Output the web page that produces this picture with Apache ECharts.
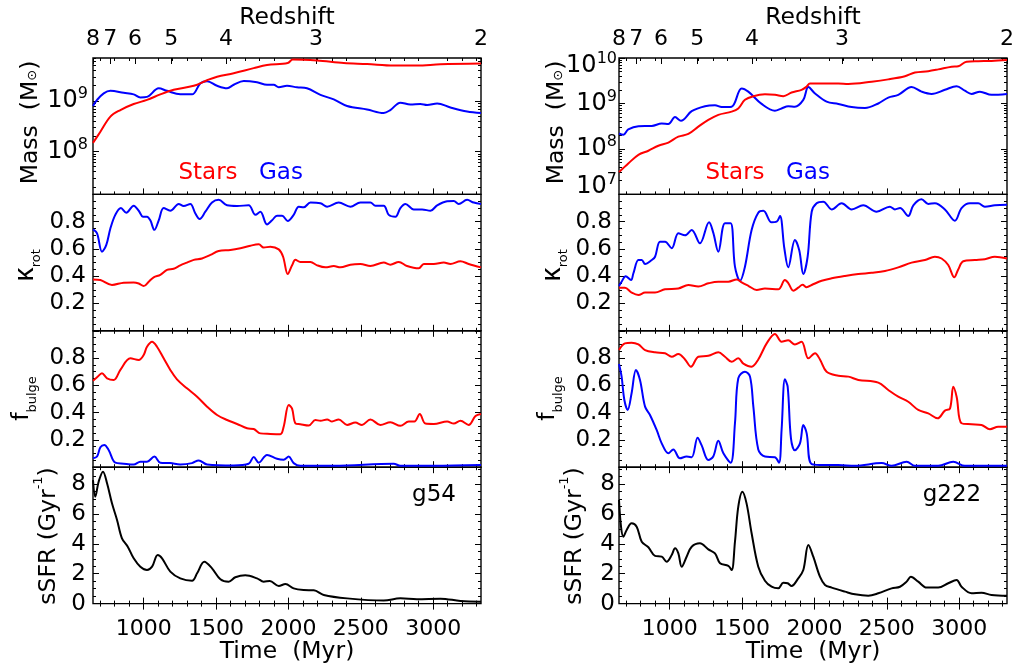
<!DOCTYPE html>
<html><head><meta charset="utf-8">
<script src="https://cdn.jsdelivr.net/npm/echarts@6/dist/echarts.min.js"></script>
<style>html,body{margin:0;padding:0;background:#fff}#c{width:1012px;height:668px}</style>
</head><body><div id="c"></div>
<script>
const FONT = "'DejaVu Sans', sans-serif";
const KFONT = "'Noto Sans', 'DejaVu Sans', sans-serif";
const RED = '#ff0000', BLUE = '#0000ff', BLACK = '#000000';

// ---- axes / tick labels ----
const timeRange = [650, 3330];
const timeTickValues = [1000, 1500, 2000, 2500, 3000];
const redshiftLabels = ['8', '7', '6', '5', '4', '3', '2'];
const redshiftTimes = [650, 770, 940, 1190, 1568, 2190, 3330];
const fracTickLabels = [0.2, 0.4, 0.6, 0.8];
const fracMajorTicks = [0, 0.2, 0.4, 0.6, 0.8, 1.0];
const ssfrTickLabels = [2, 4, 6, 8];
const ssfrMajorTicks = [0, 2, 4, 6, 8];
const galaxyNames = ['g54', 'g222'];

// ---- data: [time (Myr), value]; mass as log10(M / Msun) ----
const g54MassStars = [[650,8.17],[701,8.39],[770,8.69],[839,8.82],[931,8.94],[1023,9.02],[1115,9.13],[1207,9.22],[1346,9.30],[1438,9.41],[1507,9.48],[1622,9.55],[1760,9.65],[1852,9.71],[1995,9.75],[2030,9.82],[2198,9.80],[2382,9.75],[2543,9.73],[2727,9.70],[2888,9.70],[3050,9.725],[3330,9.74]];
const g54MassGas = [[650,8.90],[678,9.02],[724,9.15],[770,9.20],[862,9.16],[931,9.13],[977,9.07],[1023,9.08],[1104,9.25],[1161,9.20],[1253,9.13],[1334,9.13],[1392,9.35],[1438,9.39],[1507,9.30],[1576,9.25],[1622,9.32],[1691,9.395],[1783,9.37],[1852,9.32],[1898,9.32],[1933,9.27],[1990,9.30],[2059,9.27],[2128,9.25],[2221,9.12],[2313,9.03],[2405,8.90],[2543,8.83],[2658,8.76],[2704,8.82],[2773,8.965],[2842,8.93],[2911,8.94],[2958,8.92],[3027,8.95],[3119,8.87],[3234,8.79],[3330,8.76]];
const g54KappaGas = [[650,0.744],[678,0.715],[712,0.58],[742,0.63],[770,0.75],[804,0.85],[843,0.90],[880,0.866],[931,0.917],[966,0.88],[995,0.837],[1023,0.837],[1046,0.81],[1074,0.74],[1104,0.81],[1138,0.90],[1184,0.88],[1242,0.93],[1276,0.915],[1322,0.93],[1357,0.86],[1387,0.82],[1426,0.873],[1472,0.94],[1518,0.96],[1576,0.92],[1645,0.915],[1725,0.92],[1772,0.85],[1806,0.873],[1852,0.78],[1887,0.81],[1921,0.844],[1956,0.844],[1995,0.805],[2036,0.85],[2071,0.91],[2105,0.905],[2152,0.94],[2221,0.935],[2267,0.91],[2347,0.94],[2428,0.91],[2497,0.94],[2566,0.94],[2601,0.917],[2658,0.917],[2693,0.85],[2739,0.837],[2773,0.90],[2808,0.93],[2865,0.89],[2923,0.89],[2981,0.88],[3027,0.92],[3096,0.95],[3142,0.952],[3176,0.93],[3234,0.96],[3280,0.94],[3330,0.93]];
const g54KappaStars = [[650,0.377],[701,0.372],[781,0.336],[862,0.353],[931,0.355],[966,0.347],[1000,0.328],[1035,0.36],[1069,0.392],[1115,0.41],[1161,0.446],[1207,0.455],[1253,0.48],[1299,0.50],[1346,0.52],[1403,0.53],[1461,0.556],[1518,0.585],[1599,0.592],[1668,0.605],[1737,0.624],[1795,0.634],[1829,0.61],[1875,0.617],[1933,0.597],[1963,0.543],[1995,0.416],[2025,0.48],[2048,0.52],[2082,0.505],[2152,0.505],[2198,0.48],[2255,0.465],[2313,0.475],[2359,0.465],[2428,0.485],[2497,0.49],[2566,0.475],[2658,0.50],[2704,0.485],[2762,0.505],[2819,0.475],[2900,0.458],[2935,0.49],[3004,0.49],[3073,0.50],[3119,0.49],[3188,0.51],[3245,0.49],[3330,0.465]];
const g54BulgeStars = [[650,0.634],[678,0.659],[712,0.688],[747,0.652],[793,0.64],[839,0.713],[908,0.798],[966,0.786],[1000,0.823],[1023,0.883],[1058,0.92],[1092,0.883],[1138,0.798],[1184,0.713],[1230,0.644],[1299,0.578],[1369,0.517],[1438,0.444],[1507,0.383],[1576,0.346],[1645,0.317],[1714,0.285],[1760,0.28],[1806,0.248],[1875,0.244],[1944,0.242],[1967,0.297],[2002,0.456],[2025,0.43],[2048,0.322],[2082,0.315],[2140,0.305],[2186,0.346],[2221,0.34],[2267,0.35],[2301,0.335],[2347,0.35],[2405,0.31],[2462,0.327],[2508,0.31],[2566,0.35],[2635,0.31],[2704,0.33],[2773,0.303],[2831,0.335],[2870,0.335],[2907,0.39],[2946,0.32],[3004,0.317],[3096,0.335],[3142,0.32],[3188,0.34],[3245,0.31],[3292,0.375],[3330,0.39]];
const g54BulgeGas = [[650,0.065],[678,0.078],[701,0.146],[728,0.163],[758,0.126],[804,0.033],[862,0.026],[931,0.02],[977,0.04],[1023,0.04],[1074,0.078],[1115,0.033],[1184,0.03],[1253,0.02],[1334,0.03],[1380,0.05],[1438,0.02],[1622,0.013],[1725,0.025],[1760,0.075],[1795,0.033],[1852,0.09],[1921,0.062],[1967,0.055],[2002,0.078],[2036,0.03],[2082,0.01],[2313,0.01],[2727,0.026],[2773,0.01],[3004,0.01],[3330,0.016]];
const g54SSFR = [[650,8.27],[666,7.16],[689,8.16],[719,8.83],[747,8.05],[781,6.71],[816,5.60],[850,4.37],[890,3.81],[931,3.03],[977,2.47],[1023,2.25],[1058,2.47],[1097,3.25],[1127,3.03],[1184,2.14],[1253,1.69],[1334,1.53],[1369,2.03],[1419,2.80],[1472,2.36],[1530,1.63],[1587,1.47],[1633,1.76],[1702,1.89],[1783,1.69],[1829,1.47],[1871,1.51],[1933,1.18],[1979,1.31],[2036,1.02],[2105,0.91],[2175,0.89],[2244,0.58],[2405,0.35],[2658,0.20],[2773,0.35],[2888,0.29],[3050,0.33],[3188,0.18],[3330,0.13]];

const g222MassStars = [[650,7.49],[714,7.68],[784,7.87],[853,7.96],[922,8.07],[991,8.14],[1060,8.27],[1129,8.33],[1198,8.49],[1267,8.64],[1336,8.75],[1428,8.82],[1474,8.89],[1520,9.08],[1578,9.16],[1658,9.20],[1727,9.19],[1785,9.16],[1842,9.24],[1911,9.30],[1946,9.37],[1969,9.44],[2165,9.44],[2234,9.43],[2395,9.48],[2510,9.53],[2625,9.60],[2694,9.68],[2786,9.71],[2855,9.75],[2947,9.81],[2993,9.82],[3051,9.92],[3131,9.93],[3223,9.935],[3330,9.955]];
const g222MassGas = [[650,8.34],[680,8.31],[714,8.43],[784,8.50],[876,8.505],[945,8.56],[991,8.55],[1037,8.70],[1078,8.62],[1152,8.83],[1244,8.94],[1313,8.96],[1359,8.92],[1428,8.93],[1497,9.33],[1543,9.26],[1635,8.99],[1727,8.84],[1773,8.89],[1819,8.94],[1865,8.93],[1923,9.08],[1958,9.36],[2004,9.22],[2084,9.04],[2165,8.99],[2257,8.92],[2349,8.90],[2441,9.00],[2510,9.13],[2579,9.19],[2671,9.36],[2740,9.26],[2809,9.21],[2901,9.30],[2982,9.38],[3039,9.28],[3085,9.21],[3143,9.26],[3223,9.19],[3330,9.21]];
const g222KappaGas = [[650,0.328],[668,0.36],[696,0.40],[733,0.372],[749,0.42],[784,0.519],[807,0.519],[830,0.49],[876,0.519],[899,0.543],[933,0.653],[968,0.653],[1014,0.605],[1060,0.715],[1106,0.70],[1152,0.739],[1209,0.641],[1272,0.795],[1301,0.72],[1336,0.58],[1382,0.788],[1421,0.788],[1451,0.47],[1486,0.367],[1520,0.47],[1566,0.739],[1612,0.866],[1647,0.88],[1704,0.795],[1739,0.80],[1762,0.842],[1792,0.605],[1819,0.465],[1865,0.666],[1895,0.59],[1923,0.416],[1953,0.543],[1981,0.873],[2015,0.935],[2061,0.947],[2119,0.89],[2188,0.935],[2257,0.89],[2337,0.92],[2429,0.873],[2521,0.91],[2556,0.89],[2591,0.90],[2648,0.842],[2683,0.92],[2740,0.964],[2786,0.93],[2832,0.935],[2901,0.89],[2970,0.807],[3016,0.90],[3074,0.935],[3131,0.935],[3177,0.91],[3246,0.92],[3330,0.925]];
const g222KappaStars = [[650,0.316],[691,0.316],[737,0.28],[784,0.262],[830,0.28],[899,0.28],[968,0.304],[1060,0.31],[1129,0.336],[1198,0.325],[1267,0.348],[1336,0.36],[1405,0.36],[1463,0.377],[1497,0.355],[1543,0.33],[1601,0.30],[1658,0.31],[1750,0.304],[1796,0.372],[1819,0.35],[1854,0.294],[1888,0.316],[1918,0.338],[1946,0.32],[1981,0.336],[2050,0.367],[2119,0.385],[2211,0.402],[2303,0.416],[2395,0.425],[2487,0.438],[2579,0.465],[2671,0.50],[2763,0.519],[2832,0.543],[2878,0.53],[2924,0.482],[2966,0.392],[2993,0.45],[3028,0.51],[3108,0.519],[3177,0.525],[3246,0.543],[3330,0.53]];
const g222BulgeStars = [[650,0.859],[691,0.908],[737,0.913],[784,0.90],[830,0.859],[899,0.842],[968,0.835],[1014,0.81],[1060,0.83],[1106,0.79],[1147,0.737],[1198,0.81],[1267,0.817],[1336,0.842],[1382,0.81],[1428,0.773],[1474,0.798],[1509,0.76],[1566,0.737],[1612,0.79],[1670,0.908],[1727,0.977],[1773,0.92],[1819,0.93],[1865,0.90],[1911,0.92],[1958,0.798],[2004,0.835],[2038,0.79],[2084,0.70],[2165,0.671],[2234,0.664],[2303,0.64],[2441,0.62],[2510,0.566],[2579,0.517],[2648,0.48],[2717,0.42],[2786,0.395],[2851,0.358],[2901,0.415],[2936,0.43],[2959,0.59],[2982,0.517],[3016,0.322],[3085,0.315],[3154,0.31],[3212,0.278],[3269,0.297],[3330,0.297]];
const g222BulgeGas = [[650,0.757],[668,0.664],[687,0.493],[710,0.42],[737,0.542],[767,0.713],[795,0.64],[830,0.444],[864,0.383],[910,0.273],[945,0.175],[991,0.102],[1025,0.13],[1071,0.065],[1117,0.078],[1152,0.073],[1193,0.216],[1221,0.16],[1267,0.053],[1301,0.078],[1336,0.194],[1371,0.102],[1421,0.033],[1451,0.322],[1474,0.652],[1520,0.70],[1555,0.664],[1578,0.444],[1612,0.13],[1658,0.078],[1727,0.073],[1755,0.033],[1773,0.273],[1796,0.644],[1815,0.59],[1838,0.21],[1865,0.124],[1900,0.175],[1923,0.309],[1946,0.25],[1981,0.023],[2073,0.016],[2165,0.016],[2280,0.01],[2464,0.03],[2533,0.01],[2637,0.04],[2694,0.01],[2855,0.01],[2959,0.04],[3039,0.01],[3330,0.01]];
const g222SSFR = [[650,6.93],[664,5.15],[680,4.48],[703,4.93],[737,5.37],[772,5.15],[807,4.14],[853,3.77],[899,3.19],[945,3.14],[979,2.80],[1014,3.25],[1037,3.70],[1060,3.36],[1083,2.47],[1117,3.14],[1152,3.81],[1209,4.04],[1267,3.63],[1313,3.36],[1348,2.70],[1405,2.52],[1428,2.25],[1451,4.14],[1474,6.49],[1502,7.49],[1531,6.71],[1566,4.71],[1612,2.47],[1658,1.53],[1704,1.13],[1750,1.02],[1785,1.40],[1815,1.36],[1842,1.18],[1888,1.69],[1923,2.25],[1958,3.92],[1992,3.14],[2038,1.80],[2073,1.25],[2119,1.07],[2211,0.80],[2280,0.62],[2372,0.53],[2441,0.69],[2533,1.02],[2591,1.13],[2637,1.47],[2666,1.80],[2717,1.47],[2775,1.07],[2855,1.07],[2924,1.36],[2982,1.58],[3016,1.13],[3085,0.69],[3154,0.73],[3223,0.58],[3330,0.53]];

const galaxies = [
  { name: galaxyNames[0], massRange: [7.15, 9.85], massLabels: [8, 9], massEdges: [],
    mass: [g54MassGas, g54MassStars], kappa: [g54KappaGas, g54KappaStars],
    bulge: [g54BulgeGas, g54BulgeStars], ssfr: g54SSFR },
  { name: galaxyNames[1], massRange: [7, 10], massLabels: [8, 9], massEdges: [10, 7],
    mass: [g222MassGas, g222MassStars], kappa: [g222KappaGas, g222KappaStars],
    bulge: [g222BulgeGas, g222BulgeStars], ssfr: g222SSFR }
];

// ---- layout ----
const colLeft = [93, 619], plotW = 388, top0 = 58, ph = 136.4;
const grids = [], xAxis = [], yAxis = [], series = [], graphic = [];

function steps(a, b, s) { const r = []; for (let v = a; v <= b + 1e-9; v += s) r.push(+v.toFixed(4)); return r; }
const timeMinor = steps(700, 3300, 100).filter(v => v % 500 !== 0);
const fracMinor = steps(0.05, 0.95, 0.05).filter(v => Math.abs(v * 5 - Math.round(v * 5)) > 1e-6);
const ssfrMinor = steps(0.5, 9, 0.5).filter(v => v % 2 !== 0);
function logMinor(r) { const out = []; for (let n = Math.floor(r[0]); n <= r[1]; n++) for (let k = 2; k <= 9; k++) { const v = n + Math.log10(k); if (v > r[0] && v < r[1]) out.push(v); } return out; }

function tick(len, vals) { return { show: true, inside: true, length: len, customValues: vals, lineStyle: { color: BLACK, width: 1 } }; }
function addX(gi, pos, len, vals, label) {
  xAxis.push({ type: 'value', gridIndex: gi, position: pos, min: timeRange[0], max: timeRange[1],
    axisLine: { show: false }, axisTick: tick(len, vals), axisLabel: label || { show: false },
    splitLine: { show: false } });
  return xAxis.length - 1;
}
function addY(gi, pos, len, vals, range, label) {
  yAxis.push({ type: 'value', gridIndex: gi, position: pos, min: range[0], max: range[1],
    axisLine: { show: false }, axisTick: len ? tick(len, vals) : { show: false },
    axisLabel: label || { show: false }, splitLine: { show: false } });
  return yAxis.length - 1;
}
const massRich = {
  b: { fontSize: 24, fontFamily: FONT, color: BLACK, lineHeight: 30 },
  s: { fontSize: 16, fontFamily: FONT, color: BLACK, lineHeight: 15, verticalAlign: 'top' }
};
function lab(vals, fmt, margin, extra) {
  return Object.assign({ show: true, customValues: vals, formatter: fmt, color: BLACK, fontFamily: FONT,
    fontSize: 23, margin: margin, showMinLabel: true, showMaxLabel: true, hideOverlap: false }, extra || {});
}
const massFmt = v => '{b|10}{s|' + Math.round(v) + '}';
const fracFmt = v => v.toFixed(1);
const intFmt = v => String(Math.round(v));
const zFmt = v => { const i = redshiftTimes.findIndex(t => Math.abs(t - v) < 1); return i >= 0 ? redshiftLabels[i] : ''; };

function line(xi, yi, data, color) {
  series.push({ type: 'line', xAxisIndex: xi, yAxisIndex: yi, data: data, showSymbol: false, symbol: 'none',
    smooth: 0.35, lineStyle: { color: color, width: 2 }, itemStyle: { color: color }, animation: false, z: 3 });
}

galaxies.forEach((g, c) => {
  for (let p = 0; p < 4; p++) {
    const gi = grids.length;
    grids.push({ left: colLeft[c], top: top0 + p * ph, width: plotW, height: ph, show: true,
      borderColor: BLACK, borderWidth: 1.4, backgroundColor: 'transparent', containLabel: false, outerBoundsMode: 'none' });
    const xi = addX(gi, 'bottom', 6, timeTickValues,
      p === 3 ? lab(timeTickValues, intFmt, 15, { fontSize: 22 }) : null);
    addX(gi, 'bottom', 3, timeMinor);
    if (p === 0) {
      addX(gi, 'top', 6, redshiftTimes, lab(redshiftTimes, zFmt, 8, { fontSize: 22 }));
    } else {
      addX(gi, 'top', 6, timeTickValues);
    }
    addX(gi, 'top', 3, timeMinor);

    let range, majors, minors, labelCfg, edges = [];
    if (p === 0) {
      range = g.massRange;
      majors = steps(Math.ceil(range[0]), Math.floor(range[1]), 1);
      minors = logMinor(range);
      labelCfg = lab(g.massLabels, massFmt, c === 0 ? 5 : 2, { rich: massRich });
      edges = g.massEdges.map(v => ({ v, cfg: lab([v], massFmt, 2, { rich: massRich, padding: v === range[1] ? [16, 0, 0, 0] : [0, 0, 16, 0] }) }));
    } else if (p === 1 || p === 2) {
      range = [0, 1]; majors = fracMajorTicks; minors = fracMinor;
      labelCfg = lab(fracTickLabels, fracFmt, 7);
    } else {
      range = [0, 9.13]; majors = ssfrMajorTicks; minors = ssfrMinor;
      const m = c === 0 ? 7 : 4;
      labelCfg = lab(ssfrTickLabels, intFmt, m);
      edges = [{ v: 0, cfg: lab([0], intFmt, m, { padding: [0, 0, 15, 0] }) }];
    }
    const yi = addY(gi, 'left', 6, majors, range, labelCfg);
    addY(gi, 'left', 3, minors, range);
    addY(gi, 'right', 6, majors, range);
    addY(gi, 'right', 3, minors, range);
    edges.forEach(e => addY(gi, 'left', 0, [], range, e.cfg));

    if (p === 0) { line(xi, yi, g.mass[0], BLUE); line(xi, yi, g.mass[1], RED); }
    else if (p === 1) { line(xi, yi, g.kappa[0], BLUE); line(xi, yi, g.kappa[1], RED); }
    else if (p === 2) { line(xi, yi, g.bulge[1], RED); line(xi, yi, g.bulge[0], BLUE); }
    else { line(xi, yi, g.ssfr, BLACK); }
  }
});

// ---- text ----
function txt(x, y, text, opt) {
  opt = opt || {};
  graphic.push({ type: 'text', x: x, y: y, rotation: opt.rot || 0, z: 10,
    style: Object.assign({ text: text, fill: opt.color || BLACK, fontFamily: FONT, fontSize: opt.size || 23.5,
      align: 'center', verticalAlign: 'middle', textAlign: 'center', textVerticalAlign: 'middle' }, opt.style || {}) });
}
const R = Math.PI / 2;
const sub = (size, lh, va, fam) => ({ fontSize: size, fontFamily: fam || FONT, fill: BLACK, color: BLACK, lineHeight: lh, verticalAlign: va });
const colDx = [0, 526];
for (let c = 0; c < 2; c++) {
  const dx = colDx[c];
  txt(287 + dx, 18, 'Redshift');
  txt(287 + dx, 652, 'Time  (Myr)');
  txt(30.5 + dx, 122.5, '{a|Mass  (M}{s|⊙}{a|)}', { rot: R, style: { rich: { a: sub(23.5, 17, 'middle'), s: sub(13, 12, 'bottom') } } });
  txt(25.5 + dx + (c ? 1 : 0), 265.5, '{a|κ}{s|rot}', { rot: R, style: { rich: { a: sub(27, 36, 'middle', KFONT), s: sub(13, 12, 'bottom') } } });
  txt(21.4 + dx, 398.5, '{a|f}{s|bulge}', { rot: R, style: { rich: { a: sub(23.5, 36, 'middle'), s: sub(13, 12, 'bottom') } } });
  txt(48.4 + dx, 536, '{a|sSFR (Gyr}{s|-1}{a|)}', { rot: R, style: { rich: { a: sub(23.5, 32, 'middle'), s: sub(13, 12, 'top') } } });
}
txt(208, 173, 'Stars', { color: RED, size: 23 });
txt(281, 173, 'Gas', { color: BLUE, size: 23 });
txt(735, 173, 'Stars', { color: RED, size: 23 });
txt(808, 173, 'Gas', { color: BLUE, size: 23 });
txt(434, 495, galaxyNames[0], { size: 23 });
txt(952, 495, galaxyNames[1], { size: 23 });

const chart = echarts.init(document.getElementById('c'), null, { renderer: 'canvas' });
chart.setOption({ animation: false, backgroundColor: '#ffffff', grid: grids, xAxis: xAxis, yAxis: yAxis, series: series, graphic: graphic });
</script></body></html>
